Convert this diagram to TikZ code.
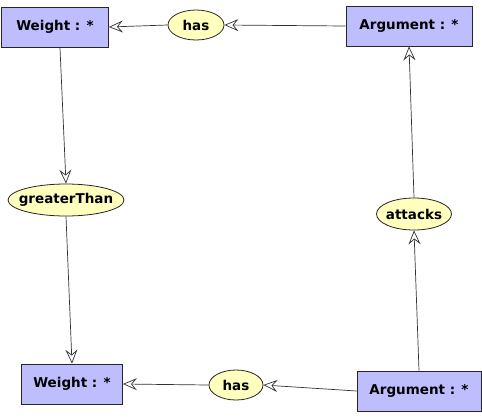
\documentclass[tikz,border=0pt]{standalone}
\usepackage{fontspec}
\setmainfont{DejaVu Sans}
\usetikzlibrary{arrows.meta,shapes.geometric}
\tikzset{
  concept/.style={draw=black!85, fill={rgb,255:red,190;green,190;blue,255}, line width=0.8pt,
    minimum height=40pt, inner xsep=0pt, font=\bfseries\fontsize{13.5}{16}\selectfont},
  relation/.style={ellipse, draw=black!85, fill={rgb,255:red,255;green,255;blue,190}, line width=0.8pt,
    inner sep=0pt, font=\bfseries\fontsize{13.5}{16}\selectfont},
  link/.style={draw=black!80, line width=0.7pt,
    -{Stealth[open, length=14pt, width=12pt, inset=5pt, fill=white]}},
}
% label set at its natural width without widening the ellipse
\newcommand{\rlabel}[1]{\makebox[0pt]{#1}}
\begin{document}
\begin{tikzpicture}[x=1pt, y=-1pt]
  \useasboundingbox (0,0) rectangle (482,416);
  % concepts
  \node[concept, minimum width=107pt] (w1) at (55,27) {Weight : *};
  \node[concept, minimum width=126pt] (a1) at (409,26) {Argument : *};
  \node[concept, minimum width=101pt] (w2) at (72,384) {Weight : *};
  \node[concept, minimum width=124pt] (a2) at (419,391) {Argument : *};
  % relations
  \node[relation, minimum width=56pt, minimum height=30pt] (h1) at (196,25) {\rlabel{has}};
  \node[relation, minimum width=116pt, minimum height=32pt] (gt) at (66,200) {\rlabel{greaterThan}};
  \node[relation, minimum width=75pt, minimum height=32pt] (at) at (414,214) {\rlabel{attacks}};
  \node[relation, minimum width=54pt, minimum height=30pt] (h2) at (236,385) {\rlabel{has}};
  % connectors
  \draw[link] (a1.west) -- (h1.east);
  \draw[link] (h1.west) -- (w1.east);
  \draw[link] (60,48) -- (gt.north);
  \draw[link] (gt.south) -- (w2.north);
  \draw[link] (a2.north) -- (at.south);
  \draw[link] (at.north) -- (a1.south);
  \draw[link] (a2.west) -- (h2.east);
  \draw[link] (h2.west) -- (w2.east);
\end{tikzpicture}
\end{document}
